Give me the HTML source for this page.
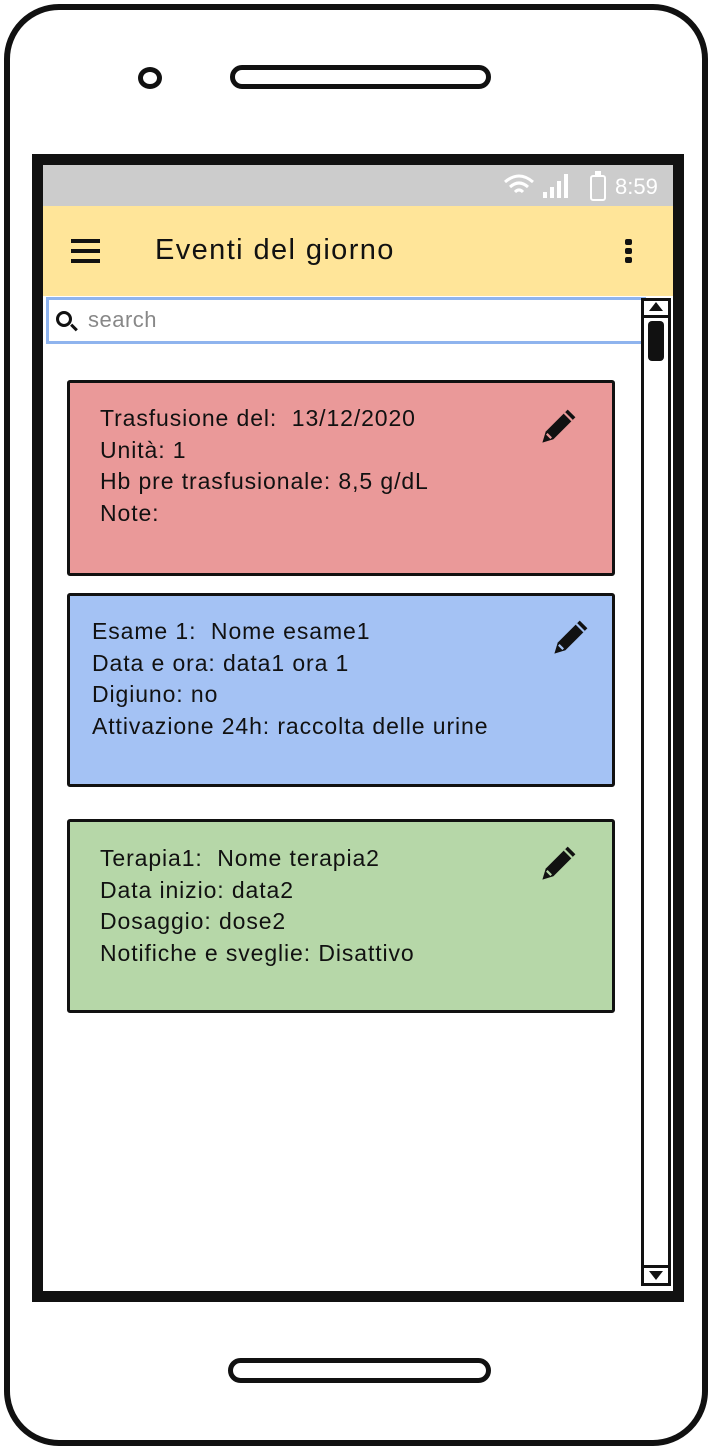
<!DOCTYPE html>
<html><head><style>
body{margin:0;width:712px;height:1450px;background:#fff;position:relative;overflow:hidden;font-family:"Liberation Sans",sans-serif;}
div{position:absolute;box-sizing:border-box;}
.card{left:67px;width:548px;border:3px solid #111;border-radius:3px;font-size:23px;line-height:31.5px;color:#111;letter-spacing:0.9px;}
.pen{position:absolute;}
</style></head><body>
<div style="left:4px;top:4px;width:704px;height:1442px;border:6px solid #111;border-radius:55px;"></div>
<div style="left:138px;top:67px;width:24px;height:22px;border:5px solid #111;border-radius:50%;"></div>
<div style="left:230px;top:65px;width:261px;height:24px;border:5px solid #111;border-radius:14px;"></div>
<div style="left:228px;top:1358px;width:263px;height:25px;border:5px solid #111;border-radius:14px;"></div>
<div style="left:32px;top:154px;width:652px;height:1148px;border:11px solid #111;"></div>
<div style="left:43px;top:165px;width:630px;height:41px;background:#ccc;"></div>
<div style="left:503px;top:170px;color:#fff;font-size:22px;">
<svg width="110" height="32" style="vertical-align:middle"><path d="M2 12 Q16 0 30 12 M7 17 Q16 9 25 17 M12 22 Q16 18 20 22" stroke="#fff" stroke-width="3" fill="none"/><rect x="40" y="22" width="4" height="6" fill="#fff"/><rect x="47" y="17" width="4" height="11" fill="#fff"/><rect x="54" y="11" width="4" height="17" fill="#fff"/><rect x="61" y="4" width="4" height="24" fill="#fff"/><rect x="88" y="6" width="14" height="24" rx="2" stroke="#fff" stroke-width="2" fill="none"/><rect x="92" y="1" width="6" height="4" fill="#fff"/></svg></div>
<div style="left:615px;top:174px;color:#fff;font-size:22px;">8:59</div>
<div style="left:43px;top:206px;width:630px;height:90px;background:#ffe599;"></div>
<div style="left:71px;top:239px;width:29px;height:4px;background:#111;"></div>
<div style="left:71px;top:249px;width:29px;height:4px;background:#111;"></div>
<div style="left:71px;top:259px;width:29px;height:4px;background:#111;"></div>
<div style="left:155px;top:234px;font-size:29px;color:#111;letter-spacing:1.4px;">Eventi del giorno</div>
<div style="left:625px;top:239px;width:7px;height:6px;background:#111;border-radius:2px;"></div>
<div style="left:625px;top:248px;width:7px;height:6px;background:#111;border-radius:2px;"></div>
<div style="left:625px;top:257px;width:7px;height:6px;background:#111;border-radius:2px;"></div>
<div style="left:46px;top:297px;width:600px;height:47px;border:3px solid #8fb4ee;background:#fff;"></div>
<div style="left:56px;top:311px;width:16px;height:16px;border:3px solid #111;border-radius:50%;"></div>
<div style="left:70px;top:326px;width:8px;height:3px;background:#111;transform:rotate(45deg);"></div>
<div style="left:88px;top:307px;font-size:22px;color:#888;letter-spacing:0.5px;">search</div>
<div style="left:641px;top:298px;width:30px;height:988px;border:3px solid #111;background:#fff;"></div>
<div style="left:641px;top:298px;width:30px;height:20px;border-bottom:3px solid #111;"></div>
<div style="left:649px;top:302px;width:0;height:0;border-left:7px solid transparent;border-right:7px solid transparent;border-bottom:9px solid #111;"></div>
<div style="left:648px;top:321px;width:16px;height:40px;background:#111;border-radius:4px;"></div>
<div style="left:641px;top:1265px;width:30px;height:21px;border-top:3px solid #111;"></div>
<div style="left:649px;top:1271px;width:0;height:0;border-left:7px solid transparent;border-right:7px solid transparent;border-top:9px solid #111;"></div>

<div class="card" style="top:380px;height:196px;background:#ea9999;padding:20px 0 0 30px;">Trasfusione del:&nbsp; 13/12/2020<br>Unità: 1<br>Hb pre trasfusionale: 8,5 g/dL<br>Note:
<svg class="pen" style="left:468px;top:20px" width="44" height="44" viewBox="0 0 40 40"><path d="M4 36 L7 26 L27 6 L34 13 L14 33 Z" fill="#111"/><path d="M24 9 L31 16" stroke="#ea9999" stroke-width="2"/><path d="M8 28 L12 32" stroke="#ea9999" stroke-width="2"/></svg></div>
<div class="card" style="top:593px;height:194px;background:#a4c2f4;padding:20px 0 0 22px;">Esame 1:&nbsp; Nome esame1<br>Data e ora: data1 ora 1<br>Digiuno: no<br>Attivazione 24h: raccolta delle urine
<svg class="pen" style="left:480px;top:18px" width="44" height="44" viewBox="0 0 40 40"><path d="M4 36 L7 26 L27 6 L34 13 L14 33 Z" fill="#111"/><path d="M24 9 L31 16" stroke="#a4c2f4" stroke-width="2"/><path d="M8 28 L12 32" stroke="#a4c2f4" stroke-width="2"/></svg></div>
<div class="card" style="top:819px;height:194px;background:#b6d7a8;padding:21px 0 0 30px;">Terapia1:&nbsp; Nome terapia2<br>Data inizio: data2<br>Dosaggio: dose2<br>Notifiche e sveglie: Disattivo
<svg class="pen" style="left:468px;top:18px" width="44" height="44" viewBox="0 0 40 40"><path d="M4 36 L7 26 L27 6 L34 13 L14 33 Z" fill="#111"/><path d="M24 9 L31 16" stroke="#b6d7a8" stroke-width="2"/><path d="M8 28 L12 32" stroke="#b6d7a8" stroke-width="2"/></svg></div>
</body></html>
